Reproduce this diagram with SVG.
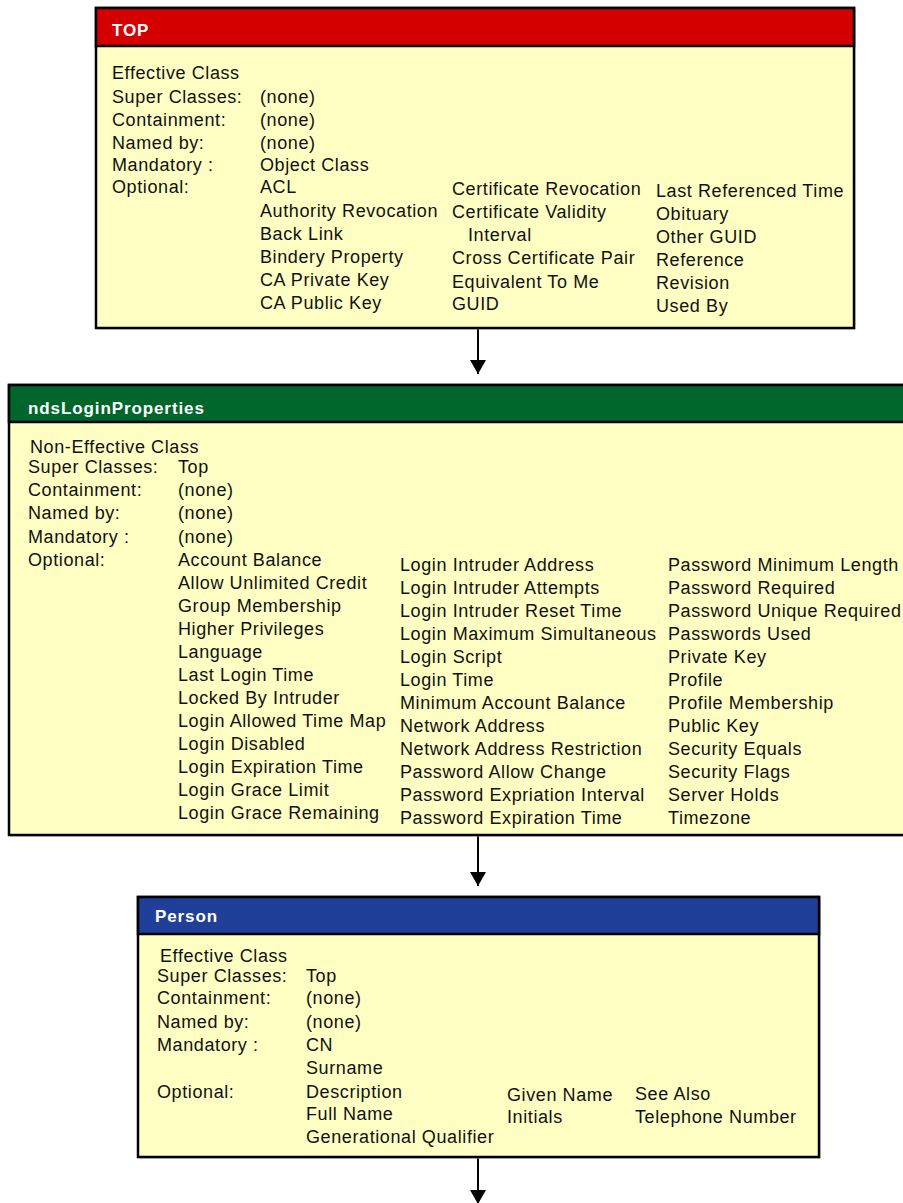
<svg xmlns="http://www.w3.org/2000/svg" width="903" height="1203" viewBox="0 0 903 1203">
<defs>
<style>
.body{fill:#ffffc4;stroke:#000;stroke-width:2.5}
.hd{font-family:"Liberation Sans",Arial,sans-serif;font-weight:bold;font-size:17px;fill:#fff;letter-spacing:0.9px}
.t{font-family:"Liberation Sans",Arial,sans-serif;font-size:18px;fill:#111;letter-spacing:0.6px}
.sep{stroke:#000;stroke-width:2}
.conn{stroke:#000;stroke-width:2;fill:none}
</style>
<marker id="ah" viewBox="0 0 14 16" refX="14" refY="8" markerWidth="14" markerHeight="16" markerUnits="userSpaceOnUse" orient="auto">
<path d="M0,0 L14,8 L0,16 Z" fill="#000"/>
</marker>
</defs>
<rect width="903" height="1203" fill="#fff"/>

<g id="connectors">
<line class="conn" x1="478" y1="328" x2="478" y2="374" marker-end="url(#ah)"/>
<line class="conn" x1="478" y1="835" x2="478" y2="886" marker-end="url(#ah)"/>
<line class="conn" x1="478" y1="1157" x2="478" y2="1204" marker-end="url(#ah)"/>
</g>

<g id="node-top">
<rect x="96" y="8" width="758" height="320" fill="#bbb" transform="translate(1.5,1.5)"/>
<rect class="body" x="96" y="8" width="758" height="320"/>
<rect x="96" y="8" width="758" height="38" fill="#d40000" stroke="#000" stroke-width="2.5"/>
<line class="sep" x1="96" y1="46" x2="854" y2="46"/>
<text class="hd" x="112" y="36">TOP</text>
<text class="t" x="112" y="79">Effective Class</text>
<text class="t" x="112" y="103">Super Classes:</text>
<text class="t" x="112" y="126">Containment:</text>
<text class="t" x="112" y="149">Named by:</text>
<text class="t" x="112" y="171">Mandatory :</text>
<text class="t" x="112" y="193">Optional:</text>
<text class="t" x="260" y="103">(none)</text>
<text class="t" x="260" y="126">(none)</text>
<text class="t" x="260" y="149">(none)</text>
<text class="t" x="260" y="171">Object Class</text>
<text class="t" x="260" y="193">ACL</text>
<text class="t" x="260" y="217">Authority Revocation</text>
<text class="t" x="260" y="240">Back Link</text>
<text class="t" x="260" y="263">Bindery Property</text>
<text class="t" x="260" y="286">CA Private Key</text>
<text class="t" x="260" y="309">CA Public Key</text>
<text class="t" x="452" y="195">Certificate Revocation</text>
<text class="t" x="452" y="218">Certificate Validity</text>
<text class="t" x="468" y="241">Interval</text>
<text class="t" x="452" y="264">Cross Certificate Pair</text>
<text class="t" x="452" y="288">Equivalent To Me</text>
<text class="t" x="452" y="310">GUID</text>
<text class="t" x="656" y="197">Last Referenced Time</text>
<text class="t" x="656" y="220">Obituary</text>
<text class="t" x="656" y="243">Other GUID</text>
<text class="t" x="656" y="266">Reference</text>
<text class="t" x="656" y="289">Revision</text>
<text class="t" x="656" y="312">Used By</text>
</g>

<g id="node-ndsLoginProperties">
<rect x="9" y="385" width="900" height="450" fill="#bbb" transform="translate(1.5,1.5)"/>
<rect class="body" x="9" y="385" width="900" height="450"/>
<rect x="9" y="385" width="900" height="37" fill="#00662b" stroke="#000" stroke-width="2.5"/>
<line class="sep" x1="9" y1="422" x2="903" y2="422"/>
<text class="hd" x="28" y="414">ndsLoginProperties</text>
<text class="t" x="30" y="453">Non-Effective Class</text>
<text class="t" x="28" y="473">Super Classes:</text>
<text class="t" x="28" y="496">Containment:</text>
<text class="t" x="28" y="519">Named by:</text>
<text class="t" x="28" y="543">Mandatory :</text>
<text class="t" x="28" y="566">Optional:</text>
<text class="t" x="178" y="473">Top</text>
<text class="t" x="178" y="496">(none)</text>
<text class="t" x="178" y="519">(none)</text>
<text class="t" x="178" y="543">(none)</text>
<text class="t" x="178" y="566">Account Balance</text>
<text class="t" x="178" y="589">Allow Unlimited Credit</text>
<text class="t" x="178" y="612">Group Membership</text>
<text class="t" x="178" y="635">Higher Privileges</text>
<text class="t" x="178" y="658">Language</text>
<text class="t" x="178" y="681">Last Login Time</text>
<text class="t" x="178" y="704">Locked By Intruder</text>
<text class="t" x="178" y="727">Login Allowed Time Map</text>
<text class="t" x="178" y="750">Login Disabled</text>
<text class="t" x="178" y="773">Login Expiration Time</text>
<text class="t" x="178" y="796">Login Grace Limit</text>
<text class="t" x="178" y="819">Login Grace Remaining</text>
<text class="t" x="400" y="571">Login Intruder Address</text>
<text class="t" x="400" y="594">Login Intruder Attempts</text>
<text class="t" x="400" y="617">Login Intruder Reset Time</text>
<text class="t" x="400" y="640">Login Maximum Simultaneous</text>
<text class="t" x="400" y="663">Login Script</text>
<text class="t" x="400" y="686">Login Time</text>
<text class="t" x="400" y="709">Minimum Account Balance</text>
<text class="t" x="400" y="732">Network Address</text>
<text class="t" x="400" y="755">Network Address Restriction</text>
<text class="t" x="400" y="778">Password Allow Change</text>
<text class="t" x="400" y="801">Password Expriation Interval</text>
<text class="t" x="400" y="824">Password Expiration Time</text>
<text class="t" x="668" y="571">Password Minimum Length</text>
<text class="t" x="668" y="594">Password Required</text>
<text class="t" x="668" y="617">Password Unique Required</text>
<text class="t" x="668" y="640">Passwords Used</text>
<text class="t" x="668" y="663">Private Key</text>
<text class="t" x="668" y="686">Profile</text>
<text class="t" x="668" y="709">Profile Membership</text>
<text class="t" x="668" y="732">Public Key</text>
<text class="t" x="668" y="755">Security Equals</text>
<text class="t" x="668" y="778">Security Flags</text>
<text class="t" x="668" y="801">Server Holds</text>
<text class="t" x="668" y="824">Timezone</text>
</g>

<g id="node-person">
<rect x="138" y="897" width="681" height="260" fill="#bbb" transform="translate(1.5,1.5)"/>
<rect class="body" x="138" y="897" width="681" height="260"/>
<rect x="138" y="897" width="681" height="37" fill="#1f3f98" stroke="#000" stroke-width="2.5"/>
<line class="sep" x1="138" y1="934" x2="819" y2="934"/>
<text class="hd" x="155" y="922">Person</text>
<text class="t" x="160" y="962">Effective Class</text>
<text class="t" x="157" y="982">Super Classes:</text>
<text class="t" x="157" y="1004">Containment:</text>
<text class="t" x="157" y="1028">Named by:</text>
<text class="t" x="157" y="1051">Mandatory :</text>
<text class="t" x="157" y="1098">Optional:</text>
<text class="t" x="306" y="982">Top</text>
<text class="t" x="306" y="1004">(none)</text>
<text class="t" x="306" y="1028">(none)</text>
<text class="t" x="306" y="1051">CN</text>
<text class="t" x="306" y="1074">Surname</text>
<text class="t" x="306" y="1098">Description</text>
<text class="t" x="306" y="1120">Full Name</text>
<text class="t" x="306" y="1143">Generational Qualifier</text>
<text class="t" x="507" y="1101">Given Name</text>
<text class="t" x="507" y="1123">Initials</text>
<text class="t" x="635" y="1100">See Also</text>
<text class="t" x="635" y="1123">Telephone Number</text>
</g>
</svg>
